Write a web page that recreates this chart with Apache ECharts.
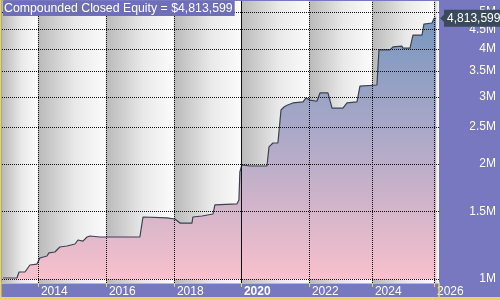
<!DOCTYPE html>
<html><head><meta charset="utf-8">
<script src="https://cdn.jsdelivr.net/npm/echarts@6/dist/echarts.min.js"></script>
<style>html,body{margin:0;padding:0;background:#7878c0}#c{width:500px;height:300px}</style>
</head><body><div id="c"></div>
<script>
// bar index (trading days from start) and compounded closed equity
const bars = [0,104,119,163,200,252,274,326,341,385,422,474,534,556,593,623,645,719,904,1015,1038,1216,1275,1312,1401,1408,1475,1557,1571,1734,1749,1756,1771,1831,1957,1972,2001,2038,2061,2083,2105,2149,2224,2246,2275,2327,2350,2409,2439,2520,2550,2624,2646,2772,2787,2868,2891,2957,2965,3017,3039,3106,3120,3180,3195,3210];
const equityM = [1.006,1.006,1.043,1.043,1.088,1.094,1.135,1.149,1.17,1.177,1.213,1.22,1.235,1.265,1.257,1.288,1.296,1.288,1.288,1.288,1.453,1.445,1.436,1.401,1.401,1.453,1.462,1.48,1.563,1.572,1.61,1.906,1.99,1.976,1.976,2.217,2.27,2.27,2.77,2.82,2.85,2.89,2.91,2.98,2.94,2.92,3.07,3.07,2.80,2.80,2.89,2.91,3.2,3.22,3.98,3.98,4.05,4.07,4.02,4.02,4.35,4.35,4.65,4.68,4.81,4.813599];
const finalEquity = 4813599;
const xTickBars = [259,763,1267,1764,2268,2735,3195];
const xTickLabels = ['2014','2016','2018','2020','2022','2024','2026'];
const yTicks = [1e6,1.5e6,2e6,2.5e6,3e6,3.5e6,4e6,4.5e6,5e6];
const xMin = -7, xMax = 3232, yMin = 976200, yMax = 5343000;

const data = bars.map((b,i)=>[b, equityM[i]*1e6]);
const edges = [xMin].concat(xTickBars, [xMax]);
const bands = [];
for (let i=0;i<edges.length-1;i++) bands.push([{xAxis:edges[i],itemStyle:{color:{type:'linear',x:0,y:0,x2:1,y2:0,colorStops:[
  {offset:0,color:'#b9b9b9'},{offset:0.55,color:'#e9e9e9'},{offset:1,color:'#fbfbfb'}]}}},{xAxis:edges[i+1]}]);
const FONT = '"Liberation Sans", Arial, sans-serif';
const YEL = '#ead45a';

const chart = echarts.init(document.getElementById('c'), null, {renderer:'canvas'});
chart.setOption({
  animation:false,
  backgroundColor:'#7878c0',
  title:{text:'Compounded Closed Equity = $' + finalEquity.toLocaleString('en-US'), left:3, top:1,
    padding:[1,2,1,1], backgroundColor:'#6e6eb9',
    textStyle:{color:'#ffffff', fontSize:12.3, fontWeight:'normal', fontFamily:FONT, lineHeight:13}},
  grid:{left:2, right:61, top:1, bottom:17, show:true, backgroundColor:'#ffffff', borderWidth:0},
  xAxis:{type:'value', min:xMin, max:xMax, splitLine:{show:false},
    axisLine:{lineStyle:{color:YEL, width:1.5}},
    axisTick:{customValues:xTickBars, length:4, lineStyle:{color:YEL}},
    axisLabel:{customValues:xTickBars, align:'left', margin:3, padding:[0,0,0,3],
      color:'#fff', fontSize:12, fontFamily:FONT,
      formatter:(v)=>{const i=xTickBars.indexOf(v); const t=xTickLabels[i]; return t==='2020'?'{b|'+t+'}':t;},
      rich:{b:{fontWeight:'bold', color:'#fff', fontSize:12, fontFamily:FONT}}}},
  yAxis:{type:'log', logBase:10, min:yMin, max:yMax, position:'right', splitLine:{show:false},
    axisLine:{show:true, lineStyle:{color:YEL, width:1.5}},
    axisTick:{show:true, customValues:yTicks, length:5, inside:false, lineStyle:{color:YEL}},
    axisLabel:{customValues:yTicks, align:'right', margin:57, color:'#fff', fontSize:12, fontFamily:FONT,
      formatter:(v)=>(Math.round(v/1e5)/10)+'M'}},
  graphic:[
    {type:'rect', shape:{x:0,y:0,width:1.5,height:300}, style:{fill:YEL}, z:100},
    {type:'rect', shape:{x:0,y:297,width:500,height:3}, style:{fill:YEL}, z:100},
    {type:'rect', shape:{x:438.3,y:283,width:1.5,height:17}, style:{fill:YEL}, z:100}
  ],
  series:[
    {type:'line', data:data, z:1, silent:true, showSymbol:false, lineStyle:{opacity:0},
      markArea:{silent:true, data:bands}},
    {type:'line', data:data, z:3, showSymbol:false, silent:true,
      lineStyle:{color:'#3c4250', width:1.2},
      areaStyle:{origin:1e6, opacity:1, color:{type:'linear',x:0,y:0,x2:0,y2:1,colorStops:[
        {offset:0,color:'#7796be'},{offset:0.45,color:'#ada9c8'},{offset:1,color:'#f8c0cc'}]}},
      endLabel:{show:true, distance:8, formatter:()=>finalEquity.toLocaleString('en-US'),
        color:'#fff', fontSize:12, fontFamily:FONT, backgroundColor:'#3a4a5a', padding:[3,3,2,3]},
      markPoint:{silent:true, symbol:'triangle', symbolSize:[11,6], symbolRotate:90, symbolOffset:[7,0],
        itemStyle:{color:'#3a4a5a'}, label:{show:false},
        data:[{coord:data[data.length-1]}]}},
    {type:'line', data:data, z:5, silent:true, showSymbol:false, lineStyle:{opacity:0},
      markLine:{silent:true, symbol:['none','none'], label:{show:false},
        lineStyle:{type:'dotted', color:'#111', width:1},
        data: yTicks.map(v=>({yAxis:v})).concat(xTickBars.map((b,i)=>({xAxis:b,
          lineStyle: xTickLabels[i]==='2020'?{type:'solid',color:'#111',width:1}:{type:'dotted',color:'#111',width:1}})))}}
  ]
});
</script></body></html>
